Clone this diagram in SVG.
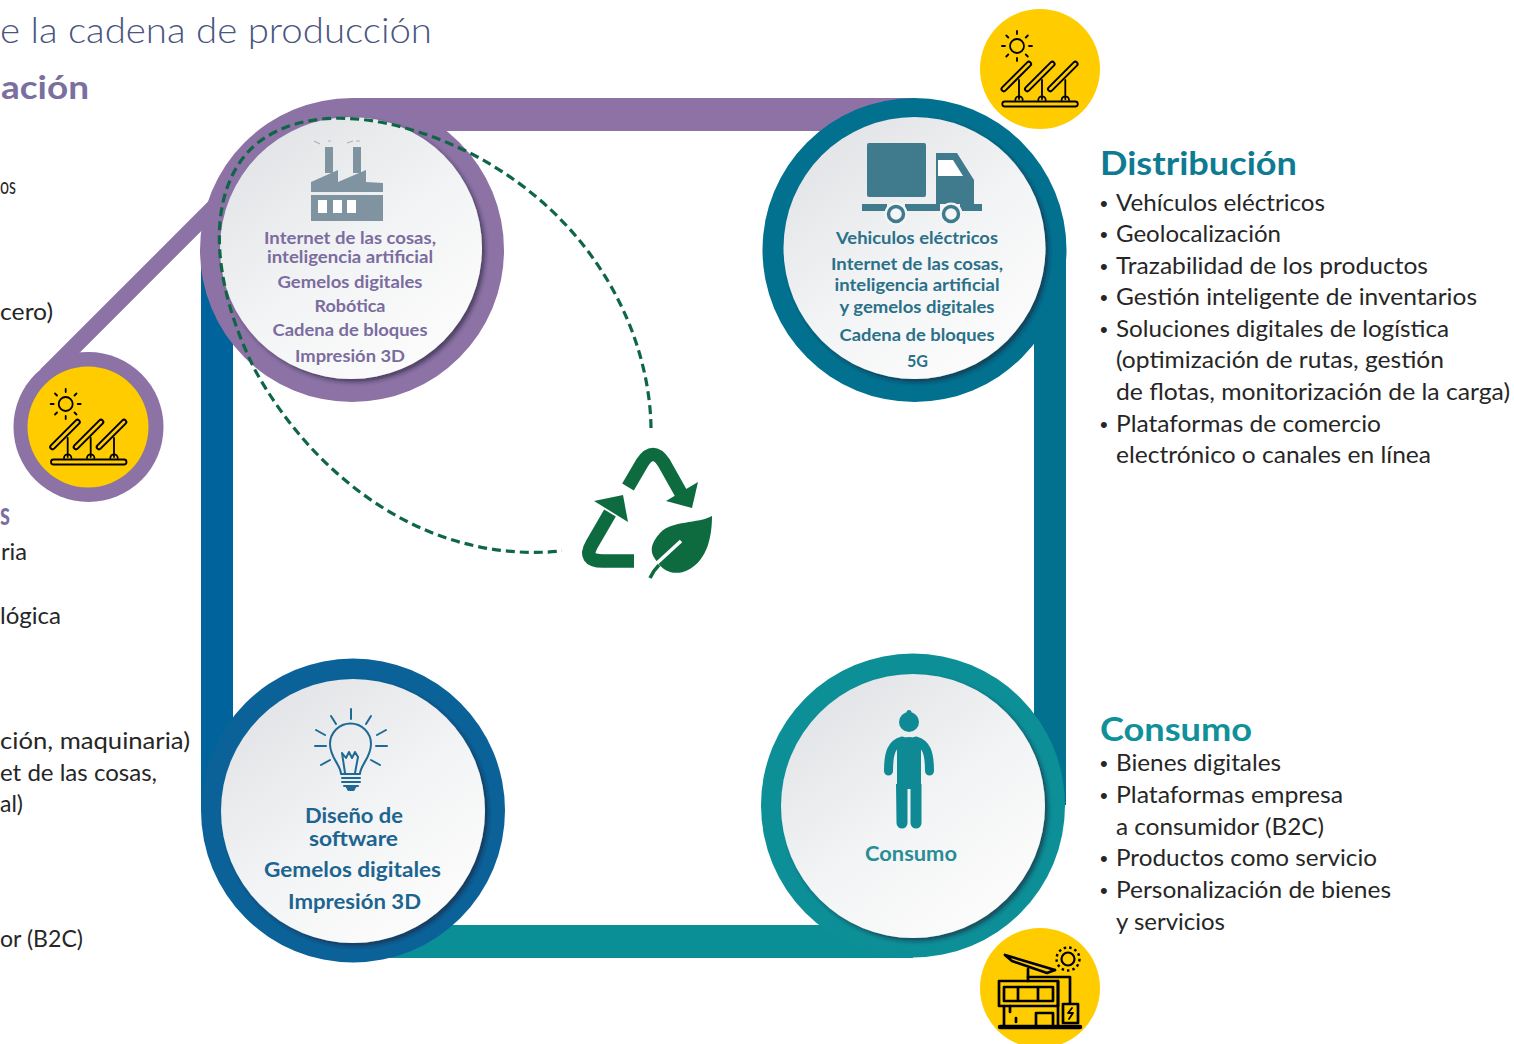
<svg xmlns="http://www.w3.org/2000/svg" xmlns:xlink="http://www.w3.org/1999/xlink" width="1514" height="1044" viewBox="0 0 1514 1044">
<style>
text{font-family:"Lato","Liberation Sans",sans-serif}
.b{font-size:24px;fill:#262626}
.u{font-family:"Liberation Sans",sans-serif;font-size:22px;fill:#262626}
.h{font-size:33px;font-weight:700}
.c{font-size:17px;font-weight:700;text-anchor:middle}
.d{font-size:20px;font-weight:700;text-anchor:middle;fill:#1d6490}
.p{fill:#7b6c9f}.t{fill:#2a7088}
.k{fill:none;stroke:#000;stroke-linecap:round;stroke-linejoin:round}
</style>
<defs>
<linearGradient id="disc" x1="0.15" y1="0.05" x2="0.8" y2="0.95"><stop offset="0" stop-color="#e1e3e6"/><stop offset="0.55" stop-color="#f3f4f5"/><stop offset="1" stop-color="#fcfcfc"/></linearGradient>
<filter id="sh" x="-15%" y="-15%" width="135%" height="135%"><feDropShadow dx="3" dy="3" stdDeviation="2" flood-color="#1d2230" flood-opacity="0.6"/></filter>
<g id="panel"><line x1="0" y1="0" x2="25" y2="-25" stroke="#000" stroke-width="6.5" stroke-linecap="round"/><line x1="0" y1="0" x2="25" y2="-25" stroke="#fc0" stroke-width="2.5" stroke-linecap="round"/></g>
<g id="solar">
<circle cx="65.7" cy="404" r="7" fill="none" stroke="#000" stroke-width="1.8"/>
<path class="k" stroke-width="1.8" d="M65.7 389v3M65.7 416v3M50.7 404h3M77.7 404h3M55 393.500l2 2M76.500 393.500l-2 2M55 414.500l2-2M76.500 414.500l-2-2"/>
<use href="#panel" x="52.500" y="447"/><use href="#panel" x="76" y="447"/><use href="#panel" x="99" y="447"/>
<path class="k" stroke-width="1.8" d="M67.700 438V457M90.700 438V457M114 438V457M64 458a3.700 3.700 0 0 1 7.400 0M87 458a3.700 3.700 0 0 1 7.400 0M110.300 458a3.700 3.700 0 0 1 7.400 0"/>
<rect x="51" y="459.500" width="75.500" height="5" rx="2.500" fill="#fc0" stroke="#000" stroke-width="1.800"/>
</g>
</defs>
<rect width="1514" height="1044" fill="#fff"/>

<g id="connectors" fill="none">
<line x1="46" y1="375" x2="222" y2="199" stroke="#8c72a5" stroke-width="16"/>
<rect x="352" y="98" width="562" height="33" fill="#8f72a5"/>
<rect x="201" y="250" width="32" height="560" fill="#00639c"/>
<rect x="1034" y="250" width="32" height="555" fill="#02708f"/>
<rect x="353" y="925" width="560" height="33" fill="#0b8f97"/>
</g>

<g id="node-fabricacion">
<circle cx="352" cy="250" r="152" fill="#8c72a5"/>
<circle cx="351" cy="248" r="131" fill="url(#disc)" filter="url(#sh)"/>
<path fill="#7f93a1" d="M325 147h8v26h-8zM353 147h8v26h-8zM311 192v-10l27-12v12l28-12v12l17 1v9zM311 195h72v26h-72z"/>
<path fill="#fff" d="M318 200h9v13h-9zM333 200h9v13h-9zM347 200h9v13h-9z"/>
<path fill="none" stroke="#a9b4bd" stroke-width="1.200" d="M314 141l6 3M328 141h3M347 143l6-2M356 141h4"/>
<text class="c p" x="350" y="244" textLength="172" lengthAdjust="spacingAndGlyphs">Internet de las cosas,</text>
<text class="c p" x="350" y="263" textLength="166" lengthAdjust="spacingAndGlyphs">inteligencia artificial</text>
<text class="c p" x="350" y="288" textLength="145" lengthAdjust="spacingAndGlyphs">Gemelos digitales</text>
<text class="c p" x="350" y="312" textLength="71" lengthAdjust="spacingAndGlyphs">Robótica</text>
<text class="c p" x="350" y="336" textLength="155" lengthAdjust="spacingAndGlyphs">Cadena de bloques</text>
<text class="c p" x="350" y="362" textLength="110" lengthAdjust="spacingAndGlyphs">Impresión 3D</text>
</g>

<g id="node-distribucion">
<circle cx="914.500" cy="250" r="152" fill="#02708f"/>
<circle cx="914.500" cy="248" r="131" fill="url(#disc)" filter="url(#sh)"/>
<rect x="867" y="143" width="59" height="54" rx="2" fill="#3f7b8d"/>
<path fill="#3f7b8d" d="M936 153h21l17 27v24h-38zM862 204h25v7h-25zM905 204h35v7h-35zM960 204h22v7h-22z"/>
<path fill="#fff" d="M938 160h15l10 16h-25z"/>
<circle cx="896" cy="214" r="11.500" fill="#f4f5f6"/>
<circle cx="951" cy="214" r="11.500" fill="#f4f5f6"/>
<circle cx="896" cy="214" r="7.500" fill="none" stroke="#3f7b8d" stroke-width="3.500"/>
<circle cx="951" cy="214" r="7.500" fill="none" stroke="#3f7b8d" stroke-width="3.500"/>
<text class="c t" x="917" y="244" textLength="162" lengthAdjust="spacingAndGlyphs">Vehiculos eléctricos</text>
<text class="c t" x="917" y="270" textLength="172" lengthAdjust="spacingAndGlyphs">Internet de las cosas,</text>
<text class="c t" x="917" y="291" textLength="165" lengthAdjust="spacingAndGlyphs">inteligencia artificial</text>
<text class="c t" x="917" y="313" textLength="155" lengthAdjust="spacingAndGlyphs">y gemelos digitales</text>
<text class="c t" x="917" y="341" textLength="155" lengthAdjust="spacingAndGlyphs">Cadena de bloques</text>
<text class="c t" x="917.500" y="367" textLength="21" lengthAdjust="spacingAndGlyphs">5G</text>
</g>

<g id="node-diseno">
<circle cx="353" cy="810.500" r="152" fill="#0b6299"/>
<circle cx="353" cy="811" r="132" fill="url(#disc)" filter="url(#sh)"/>
<g fill="none" stroke="#1f6a94" stroke-width="2" stroke-linecap="round" stroke-linejoin="round">
<path d="M341 774c0-9-11-16-11-30a20.500 20.500 0 0 1 41 0c0 14-11 21-11 30z"/>
<path d="M345 773l-3-20 4 5 3-6 3 6 3-6 3 5-3 16M351 709v10M331 716l5 8M371 716l-5 8M316 730l9 5M386 730l-9 5M315 746h11M376 746h11M321 765l9-5M380 765l-9-5"/>
<path d="M342 778h18M342 782h18M344 786h14"/>
</g>
<path fill="#1f6a94" d="M345 786h12l-3 5h-6z"/>
<text class="d" x="354" y="823" textLength="98" lengthAdjust="spacingAndGlyphs">Diseño de</text>
<text class="d" x="353.500" y="846" textLength="89" lengthAdjust="spacingAndGlyphs">software</text>
<text class="d" x="352.500" y="877" textLength="177" lengthAdjust="spacingAndGlyphs">Gemelos digitales</text>
<text class="d" x="354.500" y="909" textLength="133" lengthAdjust="spacingAndGlyphs">Impresión 3D</text>
</g>

<g id="node-consumo">
<circle cx="913" cy="805.500" r="152" fill="#0d8f98"/>
<circle cx="913" cy="806" r="132" fill="url(#disc)" filter="url(#sh)"/>
<g fill="#0f8a94">
<circle cx="909" cy="722" r="10"/><circle cx="909" cy="712.500" r="2.500"/>
<path d="M897 741q12-8 24 0v48h-24z"/>
<path d="M896 784h11.500v39a5.500 5.500 0 0 1-11 0zM910.500 784h11v39a5.500 5.500 0 0 1-11 0z"/>
</g>
<path fill="none" stroke="#0f8a94" stroke-width="9" stroke-linecap="round" d="M888.500 771C888.500 752 892 744 902 741M929.500 771C929.500 752 926 744 916 741"/>
<text class="c" x="911" y="861" style="font-size:20px;fill:#2a8d96" textLength="92" lengthAdjust="spacingAndGlyphs">Consumo</text>
</g>

<g id="connector-reciclaje" fill="none">
<path d="M651 428C650 340 600 220 470 153C400 118 310 100 255 145C205 190 210 280 255 370C310 470 420 565 562 551" stroke="#0f6647" stroke-width="3.200" stroke-dasharray="9 5"/>
</g>

<g id="node-reciclaje" fill="#0e6b3f">
<path fill="none" stroke="#0e6b3f" stroke-width="13.500" d="M628 487L642 463Q653 446 664 463L682 495"/>
<path d="M698 482L692 508L666 501z"/>
<path fill="none" stroke="#0e6b3f" stroke-width="13.500" d="M634 561H603Q582 561 592 544L610 513"/>
<path d="M594 501L623 495L628 522z"/>
<path d="M712 516C698 524 672 520 660 533C650 544 650 552 655 559L658 563C664 572 676 576 688 570C708 560 712 535 712 516z"/>
<path fill="none" stroke="#fff" stroke-width="3.500" d="M681 541L656 564"/>
<path fill="none" stroke="#0e6b3f" stroke-width="3.500" d="M659 565Q653 571 650 578"/>
</g>

<g id="node-solar-izq">
<circle cx="88.500" cy="427" r="75" fill="#8c72a5"/>
<circle cx="88" cy="427" r="60.500" fill="#fc0"/>
<use href="#solar"/>
</g>
<g id="node-solar-der">
<circle cx="1040" cy="69" r="60" fill="#fc0"/>
<use href="#solar" x="951.300" y="-358"/>
</g>
<g id="node-vivienda-solar">
<circle cx="1040" cy="988" r="60" fill="#fc0"/>
<g class="k" stroke-width="2.700">
<path d="M1005 955L1055 970M1005 955L1012 961L1047 973L1055 970M1028 969V981"/>
<path d="M999 981H1058M999 981V1006H1058V981M1004 987H1053V1001H1004zM1018 987V1001M1038 987V1001"/>
<path d="M1028 977H1070V1003M1058 981V1027"/>
<path d="M1004 1006V1027M1010 1006V1012M1016 1018V1022M1036 1027V1013H1053V1027"/>
<path d="M1063 1004H1078V1023H1063z"/>
<path d="M1072 1008L1068 1013H1073L1069 1019" stroke-width="1.800"/>
<path d="M1000 1027H1080" stroke-width="4.500"/>
</g>
<circle cx="1068" cy="959" r="6.500" fill="none" stroke="#000" stroke-width="2.200"/>
<circle cx="1068" cy="959" r="11.500" fill="none" stroke="#000" stroke-width="2.400" stroke-dasharray="2.500 3"/>
</g>

<g id="texto-izquierda">
<text x="0" y="43" style="font-size:36px;font-weight:300;fill:#4a5680" textLength="432" lengthAdjust="spacingAndGlyphs">e la cadena de producción</text>
<text class="h" x="1" y="99" style="fill:#7b6fa0" textLength="88" lengthAdjust="spacingAndGlyphs">ación</text>
<text class="b" x="0" y="194" textLength="16" lengthAdjust="spacingAndGlyphs">os</text>
<text class="b" x="0" y="320" textLength="53" lengthAdjust="spacingAndGlyphs">cero)</text>
<text class="h" x="0" y="525" style="fill:#7b6fa0" textLength="10" lengthAdjust="spacingAndGlyphs">s</text>
<text class="b" x="1" y="560" textLength="26" lengthAdjust="spacingAndGlyphs">ria</text>
<text class="b" x="0" y="624" textLength="61" lengthAdjust="spacingAndGlyphs">lógica</text>
<text class="b" x="0" y="749" textLength="190" lengthAdjust="spacingAndGlyphs">ción, maquinaria)</text>
<text class="b" x="0" y="781" textLength="157" lengthAdjust="spacingAndGlyphs">et de las cosas,</text>
<text class="b" x="0" y="812" textLength="23" lengthAdjust="spacingAndGlyphs">al)</text>
<text class="b" x="0" y="947" textLength="83" lengthAdjust="spacingAndGlyphs">or (B2C)</text>
</g>

<g id="texto-distribucion">
<text class="h" x="1100" y="175" style="fill:#0f7b92" textLength="197" lengthAdjust="spacingAndGlyphs">Distribución</text>
<text class="u" x="1100" y="211">•</text><text class="b" x="1116" y="211" textLength="209" lengthAdjust="spacingAndGlyphs">Vehículos eléctricos</text>
<text class="u" x="1100" y="242">•</text><text class="b" x="1116" y="242" textLength="165" lengthAdjust="spacingAndGlyphs">Geolocalización</text>
<text class="u" x="1100" y="274">•</text><text class="b" x="1116" y="274" textLength="312" lengthAdjust="spacingAndGlyphs">Trazabilidad de los productos</text>
<text class="u" x="1100" y="305">•</text><text class="b" x="1116" y="305" textLength="361" lengthAdjust="spacingAndGlyphs">Gestión inteligente de inventarios</text>
<text class="u" x="1100" y="337">•</text><text class="b" x="1116" y="337" textLength="333" lengthAdjust="spacingAndGlyphs">Soluciones digitales de logística</text>
<text class="b" x="1116" y="368" textLength="328" lengthAdjust="spacingAndGlyphs">(optimización de rutas, gestión</text>
<text class="b" x="1116" y="400" textLength="394" lengthAdjust="spacingAndGlyphs">de flotas, monitorización de la carga)</text>
<text class="u" x="1100" y="432">•</text><text class="b" x="1116" y="432" textLength="265" lengthAdjust="spacingAndGlyphs">Plataformas de comercio</text>
<text class="b" x="1116" y="463" textLength="315" lengthAdjust="spacingAndGlyphs">electrónico o canales en línea</text>
</g>

<g id="texto-consumo">
<text class="h" x="1100" y="741" style="fill:#10909a" textLength="152" lengthAdjust="spacingAndGlyphs">Consumo</text>
<text class="u" x="1100" y="771">•</text><text class="b" x="1116" y="771" textLength="165" lengthAdjust="spacingAndGlyphs">Bienes digitales</text>
<text class="u" x="1100" y="803">•</text><text class="b" x="1116" y="803" textLength="227" lengthAdjust="spacingAndGlyphs">Plataformas empresa</text>
<text class="b" x="1116" y="835" textLength="208" lengthAdjust="spacingAndGlyphs">a consumidor (B2C)</text>
<text class="u" x="1100" y="866">•</text><text class="b" x="1116" y="866" textLength="261" lengthAdjust="spacingAndGlyphs">Productos como servicio</text>
<text class="u" x="1100" y="898">•</text><text class="b" x="1116" y="898" textLength="275" lengthAdjust="spacingAndGlyphs">Personalización de bienes</text>
<text class="b" x="1116" y="930" textLength="109" lengthAdjust="spacingAndGlyphs">y servicios</text>
</g>
</svg>
